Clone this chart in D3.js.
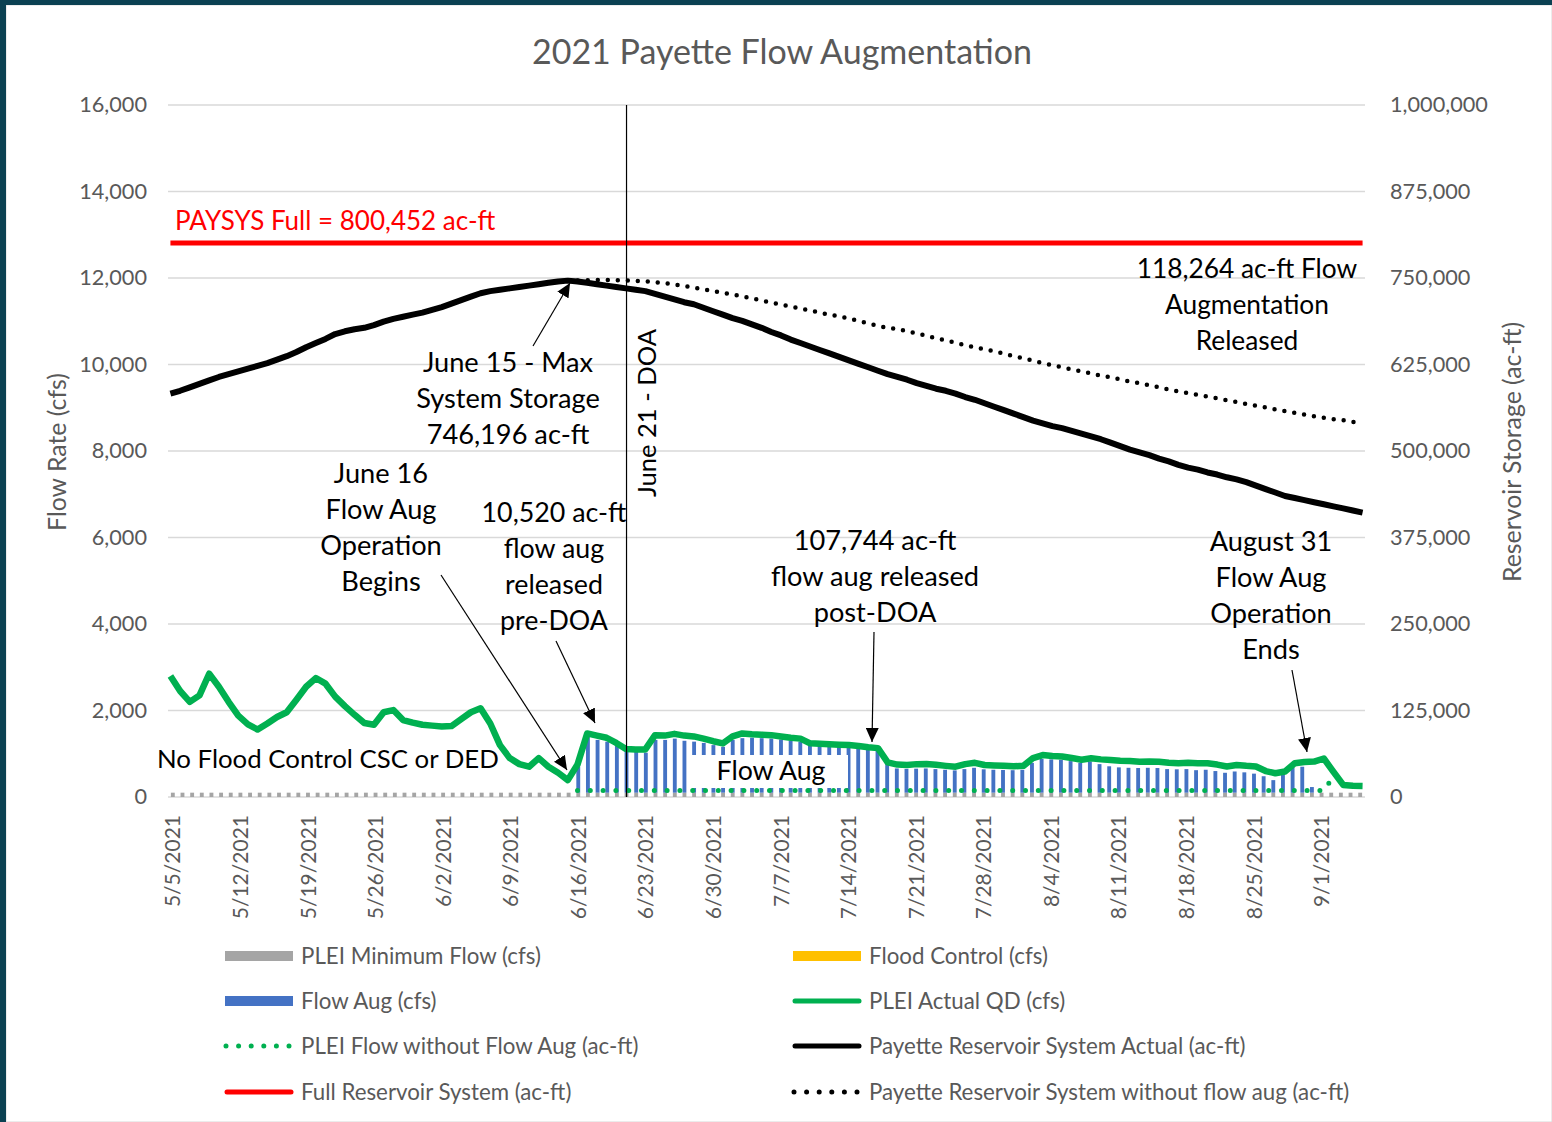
<!DOCTYPE html>
<html>
<head>
<meta charset="utf-8">
<script src="https://cdn.jsdelivr.net/npm/d3@7"></script>
<style>
body { margin: 0; background: #fff; }
svg { display: block; font-family: Lato, "Open Sans", sans-serif; }
</style>
</head>
<body>
<svg id="chart" width="1552" height="1122"></svg>
<script>
// ---- data ----
const startDate = new Date(2021, 4, 5);

// PLEI actual QD (cfs), one value per day from 5/5 to 9/5
const actualQD = [
  2800, 2450, 2200, 2350, 2850, 2550, 2200, 1880, 1680, 1560,
  1700, 1850, 1960, 2250, 2550, 2750, 2620, 2320, 2100, 1900,
  1710, 1670, 1960, 2010, 1780, 1720, 1670, 1650, 1630, 1640,
  1800, 1960, 2050, 1700, 1200, 900, 760, 700, 900, 700,
  560, 390, 750, 1470, 1420, 1370, 1250, 1110, 1100, 1100,
  1430, 1420, 1460, 1420, 1400, 1350, 1290, 1240, 1400, 1470,
  1450, 1440, 1430, 1400, 1370, 1350, 1240, 1230, 1220, 1210,
  1200, 1180, 1150, 1130, 800, 750, 740, 760, 765, 745,
  720, 700, 760, 790, 740, 730, 720, 710, 720, 900,
  970, 950, 935, 900, 860, 895, 870, 855, 840, 830,
  815, 820, 815, 790, 780, 790, 780, 780, 750, 705,
  740, 720, 705, 600, 550, 590, 780, 810, 820, 890,
  580, 280, 260, 255
];

// Flow aug (cfs), daily from 6/16 to 8/31
const flowAugStart = new Date(2021, 5, 16);
const flowAug = [
  600, 1300, 1220, 1180, 1100, 1000, 950, 925,
  1220, 1220, 1250, 1200, 1180, 1150, 1100, 1060, 1220, 1260,
  1270, 1260, 1250, 1230, 1200, 1180, 1100, 1080, 1070, 1060,
  1050, 1040, 1020, 1000, 680, 560, 550, 555, 560, 545,
  530, 515, 545, 575, 540, 530, 525, 520, 530, 690,
  780, 770, 760, 730, 690, 720, 660, 610, 585, 575,
  570, 575, 570, 545, 540, 545, 520, 530, 500, 460,
  490, 470, 440, 380, 290, 450, 580, 600, 130
];

// PLEI flow without flow aug, daily from 6/16 to 9/2
const noAugStart = new Date(2021, 5, 16);
const noAugFlow = [
  150, 150, 150, 150, 150, 150, 150, 150, 150, 150,
  150, 150, 150, 150, 150, 150, 150, 150, 150, 150,
  150, 150, 150, 150, 150, 150, 150, 150, 150, 150,
  150, 150, 150, 150, 150, 150, 150, 150, 150, 150,
  150, 150, 150, 150, 150, 150, 150, 150, 150, 150,
  150, 150, 150, 150, 150, 150, 150, 150, 150, 150,
  150, 150, 150, 150, 150, 150, 150, 150, 150, 150,
  150, 150, 150, 150, 150, 150, 150, 150, 480
];

const minFlowCfs = 100;     // PLEI minimum flow, every day
const floodControl = [];    // no flood control this season

// Payette reservoir system actual storage (thousand ac-ft), daily 5/5 - 9/5
const storageActual = [
  583, 587, 592, 597, 602, 607, 611, 615, 619, 623,
  627, 632, 637, 643, 650, 656, 662, 669, 673, 676,
  678, 682, 687, 691, 694, 697, 700, 704, 708, 713,
  718, 723, 728, 731, 733, 735, 737, 739, 741, 743,
  745, 746.196, 745, 743, 741, 739, 737, 735, 733, 731,
  727, 723, 719, 715, 712, 707, 702, 697, 692, 688,
  683, 678, 672, 667, 661, 656, 651, 646, 641, 636,
  631, 626, 621, 616, 611, 607, 603, 598, 594, 590,
  587, 583, 578, 574, 569, 564, 559, 554, 549, 544,
  540, 536, 533, 529, 525, 521, 517, 512, 507, 502,
  498, 494, 489, 485, 480, 476, 473, 469, 466, 462,
  459, 455, 450, 445, 440, 435, 432, 429, 426, 423,
  420, 417, 414, 411
];

// storage without flow aug (thousand ac-ft), daily 6/15 - 9/5
const noAugStorageStart = new Date(2021, 5, 15);
const storageNoAug = [
  746.196, 746.5, 746.8, 747, 747, 746.8, 746.5, 746, 745.2,
  744, 742.5, 740.5, 738.5, 736, 733.5, 731, 728.5, 726, 723.5,
  720.5, 717.5, 714.5, 711.5, 709, 706, 703, 700, 697, 694.5,
  691.5, 688, 684.5, 681, 678, 676.5, 673, 670, 666.5, 663,
  660, 656.5, 653, 650, 647, 644, 640.5, 637, 634, 630.5,
  627, 624, 621, 618, 615, 612, 609, 606.5, 603.5, 600.5,
  598, 595, 592, 589, 586, 583.5, 581, 578.5, 576, 573.5,
  571, 568, 565.5, 563, 560, 557.5, 555, 552.5, 550, 548,
  546, 544.5, 542, 540
];

const paysysFull = 800.452; // thousand ac-ft

const leftTicks = [0, 2000, 4000, 6000, 8000, 10000, 12000, 14000, 16000];
const rightTicks = [0, 125, 250, 375, 500, 625, 750, 875, 1000];
const dateLabels = ["5/5/2021", "5/12/2021", "5/19/2021", "5/26/2021", "6/2/2021", "6/9/2021",
  "6/16/2021", "6/23/2021", "6/30/2021", "7/7/2021", "7/14/2021", "7/21/2021", "7/28/2021",
  "8/4/2021", "8/11/2021", "8/18/2021", "8/25/2021", "9/1/2021"];

// ---- chart ----
const svg = d3.select("#chart");
const W = 1552, H = 1122;
const plot = {left: 168, right: 1365, top: 105, bottom: 797};
const grey = "#595959";

svg.append("rect").attr("width", W).attr("height", H).attr("fill", "#fff");
svg.append("rect").attr("x", 6).attr("y", 5).attr("width", W - 6).attr("height", H - 5)
    .attr("fill", "none").attr("stroke", "#d9d9d9");
svg.append("rect").attr("width", W).attr("height", 5).attr("fill", "#0b4152");
svg.append("rect").attr("width", 6).attr("height", H).attr("fill", "#0b4152");

const days = d3.timeDay.range(startDate, d3.timeDay.offset(startDate, actualQD.length));
const seriesFrom = (start, values) => values.map((v, k) => ({date: d3.timeDay.offset(start, k), value: v}));

const x = d3.scaleBand().domain(days).range([plot.left, plot.right])
    .paddingInner(0.6).paddingOuter(0.3);
const xl = d3.scalePoint().domain(days).range([plot.left, plot.right]).padding(0.25);
const yL = d3.scaleLinear().domain([0, 16000]).range([plot.bottom, plot.top]);
const yR = d3.scaleLinear().domain([0, 1000]).range([plot.bottom, plot.top]);

// gridlines
svg.append("g").selectAll("line").data(leftTicks).enter()
    .append("line")
        .attr("x1", plot.left).attr("x2", plot.right)
        .attr("y1", d => yL(d)).attr("y2", d => yL(d))
        .attr("stroke", "#d9d9d9").attr("stroke-width", 1.5);

// axes
const axisL = svg.append("g").attr("transform", `translate(${plot.left},0)`)
    .call(d3.axisLeft(yL).tickValues(leftTicks).tickFormat(d3.format(",")).tickSize(0).tickPadding(21));
const axisR = svg.append("g").attr("transform", `translate(${plot.right},0)`)
    .call(d3.axisRight(yR).tickValues(rightTicks).tickFormat(d => d3.format(",")(d * 1000)).tickSize(0).tickPadding(25));
const parseDate = d3.timeParse("%-m/%-d/%Y");
const axisB = svg.append("g").attr("transform", `translate(0,${plot.bottom})`)
    .call(d3.axisBottom(x).tickValues(dateLabels.map(parseDate)).tickFormat(d3.timeFormat("%-m/%-d/%Y")).tickSize(0));
[axisL, axisR, axisB].forEach(g => {
    g.select(".domain").remove();
    g.selectAll("text").attr("fill", grey).attr("font-size", 21.7).attr("font-family", "Lato, sans-serif");
});
axisB.selectAll("text")
    .attr("transform", "rotate(-90)")
    .attr("text-anchor", "end")
    .attr("font-size", 21)
    .attr("x", -18).attr("y", 0).attr("dy", "0.36em");

svg.append("text").attr("transform", "translate(57,452) rotate(-90)")
    .attr("text-anchor", "middle").attr("dy", "0.35em")
    .attr("fill", grey).attr("font-size", 24.8).text("Flow Rate (cfs)");
svg.append("text").attr("transform", "translate(1512,452) rotate(-90)")
    .attr("text-anchor", "middle").attr("dy", "0.35em")
    .attr("fill", grey).attr("font-size", 24.8).text("Reservoir Storage (ac-ft)");
svg.append("text").attr("x", 782).attr("y", 52).attr("dy", "0.35em")
    .attr("text-anchor", "middle").attr("fill", grey).attr("font-size", 34)
    .text("2021 Payette Flow Augmentation");

// stacked columns: min flow, flow aug, flood control
const augByDay = new Map(seriesFrom(flowAugStart, flowAug).map(d => [+d.date, d.value]));
const fcByDay = new Map(seriesFrom(startDate, floodControl).map(d => [+d.date, d.value]));
const rows = days.map(d => ({
    date: d,
    minFlow: minFlowCfs,
    flowAug: augByDay.get(+d) || 0,
    floodControl: fcByDay.get(+d) || 0
}));
const barColors = {minFlow: "#a5a5a5", flowAug: "#4472c4", floodControl: "#ffc000"};
const stacked = d3.stack().keys(["minFlow", "flowAug", "floodControl"])(rows);
svg.append("g").selectAll("g")
    .data(stacked).enter()
    .append("g").attr("fill", s => barColors[s.key])
    .selectAll("rect")
    .data(s => s.filter(d => d[1] > d[0])).enter()
    .append("rect")
        .attr("x", d => x(d.data.date))
        .attr("width", x.bandwidth())
        .attr("y", d => yL(d[1]))
        .attr("height", d => yL(d[0]) - yL(d[1]));

// "Flow Aug" label box sits over the columns
svg.append("rect").attr("x", 688).attr("y", 755).attr("width", 160).attr("height", 33).attr("fill", "#fff");

const flowLine = d3.line().x(d => xl(d.date)).y(d => yL(d.value));
const storeLine = d3.line().x(d => xl(d.date)).y(d => yR(d.value));

svg.append("path").datum(seriesFrom(noAugStart, noAugFlow))
    .attr("d", flowLine).attr("fill", "none")
    .attr("stroke", "#00b050").attr("stroke-width", 5)
    .attr("stroke-dasharray", "0 12.8").attr("stroke-linecap", "round");
svg.append("path").datum(seriesFrom(startDate, actualQD))
    .attr("d", flowLine).attr("fill", "none")
    .attr("stroke", "#00b050").attr("stroke-width", 6.5)
    .attr("stroke-linejoin", "round");
svg.append("path").datum(seriesFrom(noAugStorageStart, storageNoAug))
    .attr("d", storeLine).attr("fill", "none")
    .attr("stroke", "#000").attr("stroke-width", 4.5)
    .attr("stroke-dasharray", "0 10").attr("stroke-linecap", "round");
svg.append("path").datum(seriesFrom(startDate, storageActual))
    .attr("d", storeLine).attr("fill", "none")
    .attr("stroke", "#000").attr("stroke-width", 6)
    .attr("stroke-linejoin", "round");
svg.append("path").datum(days.map(d => ({date: d, value: paysysFull})))
    .attr("d", storeLine).attr("fill", "none")
    .attr("stroke", "#ff0000").attr("stroke-width", 5);

// June 21 - DOA marker
const doaDate = new Date(2021, 5, 21);
const doaX = x(doaDate) + x.bandwidth() / 2;
svg.append("line").attr("x1", doaX).attr("x2", doaX)
    .attr("y1", plot.top).attr("y2", plot.bottom)
    .attr("stroke", "#000").attr("stroke-width", 1.2);
svg.append("text").attr("transform", `translate(${doaX + 21},413) rotate(-90)`)
    .attr("text-anchor", "middle").attr("dy", "0.35em")
    .attr("font-size", 25.6).attr("fill", "#000").text("June 21 - DOA");

// annotations
svg.append("defs").append("marker")
    .attr("id", "arrow").attr("viewBox", "0 0 14 13")
    .attr("refX", 14).attr("refY", 6.5)
    .attr("markerWidth", 14).attr("markerHeight", 13)
    .attr("markerUnits", "userSpaceOnUse").attr("orient", "auto")
    .append("path").attr("d", "M0,0L14,6.5L0,13Z").attr("fill", "#000");

const arrows = [
    [533, 346, 570, 283],
    [441, 575, 567, 770],
    [556, 641, 595, 723],
    [874, 632, 872, 742],
    [1292, 670, 1307, 752]
];
svg.append("g").selectAll("line").data(arrows).enter()
    .append("line")
        .attr("x1", d => d[0]).attr("y1", d => d[1])
        .attr("x2", d => d[2]).attr("y2", d => d[3])
        .attr("stroke", "#000").attr("stroke-width", 1.2)
        .attr("marker-end", "url(#arrow)");

const notes = [
    {x: 1247, y: 269, size: 26.3, lines: ["118,264 ac-ft Flow", "Augmentation", "Released"]},
    {x: 508, y: 362, size: 27.2, lines: ["June 15 - Max", "System Storage", "746,196 ac-ft"]},
    {x: 381, y: 473, size: 27.2, lines: ["June 16", "Flow Aug", "Operation", "Begins"]},
    {x: 554, y: 513, size: 26.8, lines: ["10,520 ac-ft", "flow aug", "released", "pre-DOA"]},
    {x: 875, y: 540, size: 27.2, lines: ["107,744 ac-ft", "flow aug released", "post-DOA"]},
    {x: 1271, y: 541, size: 27.2, lines: ["August 31", "Flow Aug", "Operation", "Ends"]},
    {x: 771, y: 771, size: 26.7, lines: ["Flow Aug"]}
];
notes.forEach(n => {
    svg.append("g").selectAll("text").data(n.lines).enter()
        .append("text")
            .attr("x", n.x).attr("y", (d, i) => n.y + i * 36)
            .attr("dy", "0.35em").attr("text-anchor", "middle")
            .attr("font-size", n.size).attr("fill", "#000")
            .text(d => d);
});
svg.append("text").attr("x", 157).attr("y", 759).attr("dy", "0.35em")
    .attr("font-size", 25.8).attr("fill", "#000").text("No Flood Control CSC or DED");
svg.append("text").attr("x", 175).attr("y", 221).attr("dy", "0.35em")
    .attr("font-size", 26).attr("fill", "#ff0000").text("PAYSYS Full = 800,452 ac-ft");

// legend
const legendItems = [
    {col: 0, row: 0, kind: "rect", color: "#a5a5a5", label: "PLEI Minimum Flow (cfs)"},
    {col: 0, row: 1, kind: "rect", color: "#4472c4", label: "Flow Aug (cfs)"},
    {col: 0, row: 2, kind: "dots", color: "#00b050", label: "PLEI Flow without Flow Aug (ac-ft)"},
    {col: 0, row: 3, kind: "line", color: "#ff0000", label: "Full Reservoir System (ac-ft)"},
    {col: 1, row: 0, kind: "rect", color: "#ffc000", label: "Flood Control (cfs)"},
    {col: 1, row: 1, kind: "line", color: "#00b050", label: "PLEI Actual QD (cfs)"},
    {col: 1, row: 2, kind: "line", color: "#000", label: "Payette Reservoir System Actual (ac-ft)"},
    {col: 1, row: 3, kind: "dots", color: "#000", label: "Payette Reservoir System without flow aug (ac-ft)"}
];
const legendX = [225, 793], legendY = [956, 1001, 1046, 1092];
const legend = svg.append("g");
legendItems.forEach(it => {
    const lx = legendX[it.col], ly = legendY[it.row];
    if (it.kind === "rect") {
        legend.append("rect").attr("x", lx).attr("y", ly - 5).attr("width", 68).attr("height", 10).attr("fill", it.color);
    } else if (it.kind === "line") {
        legend.append("line").attr("x1", lx + 2).attr("x2", lx + 66).attr("y1", ly).attr("y2", ly)
            .attr("stroke", it.color).attr("stroke-width", 5).attr("stroke-linecap", "round");
    } else {
        legend.append("line").attr("x1", lx + 1).attr("x2", lx + 65).attr("y1", ly).attr("y2", ly)
            .attr("stroke", it.color).attr("stroke-width", 5).attr("stroke-linecap", "round")
            .attr("stroke-dasharray", "0 12.6");
    }
    legend.append("text").attr("x", lx + 76).attr("y", ly).attr("dy", "0.35em")
        .attr("font-size", 22.3).attr("fill", grey).text(it.label);
});
</script>
</body>
</html>
